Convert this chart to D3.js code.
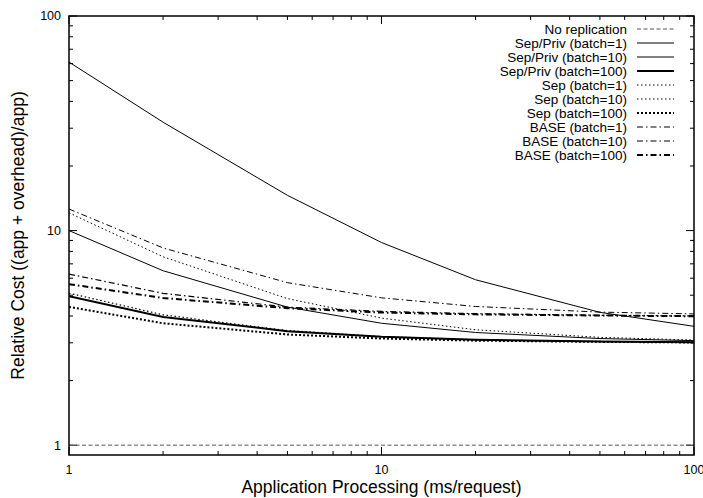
<!DOCTYPE html>
<html><head><meta charset="utf-8">
<script src="https://cdn.jsdelivr.net/npm/d3@7"></script>
<style>body{margin:0;background:#fff}svg{display:block}text{font-family:"Liberation Sans",Arial,Helvetica,sans-serif;fill:#000}</style>
</head><body>
<script>
// ---- data ----
const xValues = [1, 2, 5, 10, 20, 50, 100];
const seriesNames = ["No replication","Sep/Priv (batch=1)","Sep/Priv (batch=10)","Sep/Priv (batch=100)","Sep (batch=1)","Sep (batch=10)","Sep (batch=100)","BASE (batch=1)","BASE (batch=10)","BASE (batch=100)"];
const noReplication = [1, 1, 1, 1, 1, 1, 1];
const sepPriv1   = [61, 32, 14.6, 8.8, 5.9, 4.16, 3.58];
const sepPriv10  = [10, 6.5, 4.4, 3.7, 3.35, 3.14, 3.07];
const sepPriv100 = [4.95, 3.96, 3.4, 3.2, 3.1, 3.04, 3.02];
const sep1       = [12.1, 7.55, 4.82, 3.91, 3.45, 3.18, 3.09];
const sep10      = [5.11, 4.05, 3.42, 3.21, 3.1, 3.04, 3.02];
const sep100     = [4.41, 3.7, 3.28, 3.14, 3.07, 3.03, 3.01];
const base1      = [12.6, 8.3, 5.72, 4.86, 4.43, 4.17, 4.09];
const base10     = [6.27, 5.1, 4.4, 4.2, 4.1, 4.03, 4.0];
const base100    = [5.63, 4.85, 4.35, 4.15, 4.07, 4.02, 3.99];
const yTickLabels = ["1", "10", "100"];
const xTickLabels = ["1", "10", "100"];
const xLabel = "Application Processing (ms/request)";
const yLabel = "Relative Cost ((app + overhead)/app)";

const seriesValues = [noReplication, sepPriv1, sepPriv10, sepPriv100, sep1, sep10, sep100, base1, base10, base100];

// ---- styles (separate from data) ----
const styles = [
  {color:"#555", width:1, dash:"4,2.5"},
  {color:"#000", width:1, dash:null},
  {color:"#000", width:1, dash:null},
  {color:"#000", width:2, dash:null},
  {color:"#000", width:1, dash:"1.5,2.5"},
  {color:"#000", width:1.2, dash:"1.5,2.5"},
  {color:"#000", width:2, dash:"2,2"},
  {color:"#000", width:1, dash:"6,3,1.5,3"},
  {color:"#000", width:1.2, dash:"6,3,1.5,3"},
  {color:"#000", width:2, dash:"6,3,1.5,3"}
];

const W = 703, H = 498;
const L = 69, R = 694, T = 16, B = 455;

const svg = d3.select("body").append("svg").attr("width", W).attr("height", H);

const x = d3.scaleLog().domain([1, 100]).range([L, R]);
const y = d3.scaleLog().domain([0.9, 100]).range([B, T]);

svg.append("clipPath").attr("id","clip").append("rect")
  .attr("x", L).attr("y", T).attr("width", R-L).attr("height", B-T);

const xMinor = [], yMinor = [];
for (let d of [1,10]) for (let k=2;k<=9;k++) { xMinor.push(d*k); yMinor.push(d*k); }
const xMajor = [1,10,100], yMajor = [1,10,100];

const tickG = svg.append("g").attr("stroke","#000").attr("stroke-width",1);
xMinor.forEach(v => {
  tickG.append("line").attr("x1",x(v)).attr("x2",x(v)).attr("y1",B).attr("y2",B-4);
  tickG.append("line").attr("x1",x(v)).attr("x2",x(v)).attr("y1",T).attr("y2",T+4);
});
xMajor.forEach(v => {
  tickG.append("line").attr("x1",x(v)).attr("x2",x(v)).attr("y1",B).attr("y2",B-8);
  tickG.append("line").attr("x1",x(v)).attr("x2",x(v)).attr("y1",T).attr("y2",T+8);
});
yMinor.forEach(v => {
  tickG.append("line").attr("y1",y(v)).attr("y2",y(v)).attr("x1",L).attr("x2",L+4);
  tickG.append("line").attr("y1",y(v)).attr("y2",y(v)).attr("x1",R).attr("x2",R-4);
});
yMajor.forEach(v => {
  tickG.append("line").attr("y1",y(v)).attr("y2",y(v)).attr("x1",L).attr("x2",L+8);
  tickG.append("line").attr("y1",y(v)).attr("y2",y(v)).attr("x1",R).attr("x2",R-8);
});

yMajor.forEach((v,i) => {
  svg.append("text").attr("x", L-8).attr("y", y(v)).attr("dy","0.35em")
    .attr("text-anchor","end").attr("font-size",12.5).text(yTickLabels[i]);
});
xMajor.forEach((v,i) => {
  svg.append("text").attr("x", x(v)).attr("y", B+15).attr("dy","0.35em")
    .attr("text-anchor","middle").attr("font-size",12.5).text(xTickLabels[i]);
});

svg.append("text").attr("x", (L+R)/2).attr("y", 493).attr("text-anchor","middle")
  .attr("font-size",17.5).text(xLabel);
svg.append("text").attr("transform", `translate(24,${(T+B)/2}) rotate(-90)`)
  .attr("text-anchor","middle").attr("font-size",17.5).text(yLabel);

const line = d3.line().x((d,i) => x(xValues[i])).y(d => y(d));
const lg = svg.append("g").attr("clip-path","url(#clip)");
seriesValues.forEach((vals, i) => {
  const s = styles[i];
  lg.append("path").datum(vals).attr("d", line)
    .attr("fill","none").attr("stroke", s.color).attr("stroke-width", s.width)
    .attr("stroke-dasharray", s.dash);
});

const legX1 = 637, legX2 = 674, legTextX = 627, legY0 = 29, legDy = 14;
seriesNames.forEach((name, i) => {
  const s = styles[i];
  const yy = legY0 + i*legDy;
  svg.append("text").attr("x", legTextX).attr("y", yy).attr("dy","0.35em")
    .attr("text-anchor","end").attr("font-size",13.5).text(name);
  svg.append("line").attr("x1", legX1).attr("x2", legX2).attr("y1", yy).attr("y2", yy)
    .attr("stroke", s.color).attr("stroke-width", s.width).attr("stroke-dasharray", s.dash);
});

svg.append("rect").attr("x", L).attr("y", T).attr("width", R-L).attr("height", B-T)
  .attr("fill","none").attr("stroke","#000").attr("stroke-width",1.5);
</script>
</body></html>
